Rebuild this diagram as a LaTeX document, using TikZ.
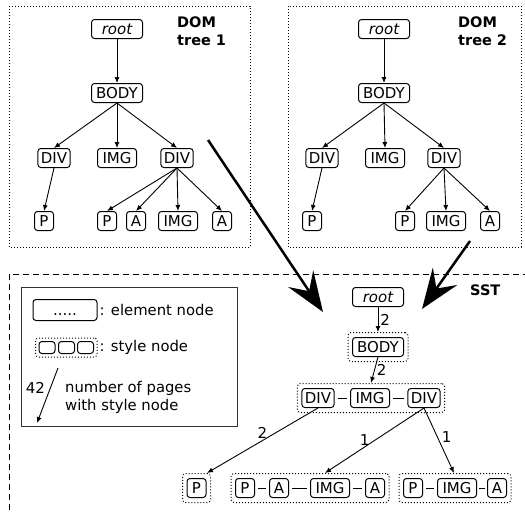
\documentclass[tikz,border=0pt]{standalone}
\usepackage{fontspec}
\setmainfont{DejaVu Sans}
\usetikzlibrary{arrows.meta, fit, positioning}

\begin{document}
\begin{tikzpicture}[
        x=1pt, y=-1pt,
        elem/.style={rectangle, draw, rounded corners=3pt, line width=1pt, inner xsep=3pt, inner ysep=4pt, text height=11pt, text depth=0pt, minimum width=19pt, font=\fontsize{15}{17}\selectfont},
        wide/.style={minimum width=51pt},
        imgw/.style={minimum width=39pt},
        rootelem/.style={elem, wide, font=\fontsize{15}{17}\selectfont\itshape},
        stylebox/.style={draw, dotted, rounded corners=3pt, line width=1pt, inner xsep=4pt, inner ysep=4.5pt},
        keycell/.style={draw, rounded corners=3pt, line width=1pt, minimum width=16pt, minimum height=12pt, inner sep=0pt},
        title/.style={font=\bfseries\fontsize{14.5}{18}\selectfont, align=left, inner sep=0pt},
        txt/.style={font=\fontsize{14.8}{18.5}\selectfont, inner sep=0pt},
        num/.style={font=\fontsize{15}{17}\selectfont, inner sep=1pt},
        arr/.style={-{Latex[length=6pt, width=5pt]}, line width=0.9pt},
        link/.style={line width=1pt, shorten <=3pt, shorten >=3pt},
        bigarr/.style={-{Stealth[length=40pt, width=30pt, inset=15pt]}, line width=2.5pt},
        treebox/.style={draw, dotted, line width=1pt}
    ]
        \useasboundingbox (0,0) rectangle (525,514);

        % Frames
        \draw[treebox] (9,6) rectangle (250,247);
        \draw[treebox] (288,6) rectangle (521,247);
        \draw[line width=1pt, dash pattern=on 6pt off 4pt] (9,520) |- (530,274);

        \node[title, anchor=north west] (dom1) at (177,16.5) {DOM\\tree 1};
        \node[title, anchor=north west] (dom2) at (458,16.5) {DOM\\tree 2};
        \node[title, anchor=base west] (sst) at (470,295) {SST};

        % Nodes: tree 1
        \node[rootelem] (root1) at (117,29) {root};
        \node[elem, wide] (body1) at (117,93) {BODY};
        \node[elem] (div1a) at (54,158) {DIV};
        \node[elem, imgw] (img1) at (117,158) {IMG};
        \node[elem] (div1b) at (177,158) {DIV};
        \node[elem] (p1a) at (44,221) {P};
        \node[elem] (p1b) at (107,221) {P};
        \node[elem] (a1a) at (136,221) {A};
        \node[elem, imgw] (img1b) at (178,221) {IMG};
        \node[elem] (a1b) at (222,221) {A};

        % Nodes: tree 2
        \node[rootelem] (root2) at (384,29) {root};
        \node[elem, wide] (body2) at (384,93) {BODY};
        \node[elem] (div2a) at (322,158) {DIV};
        \node[elem, imgw] (img2) at (385,158) {IMG};
        \node[elem] (div2b) at (444,158) {DIV};
        \node[elem] (p2a) at (312,221) {P};
        \node[elem] (p2b) at (405,221) {P};
        \node[elem, imgw] (img2b) at (446,221) {IMG};
        \node[elem] (a2) at (490,221) {A};

        % Nodes: SST
        \node[rootelem] (sroot) at (378,297) {root};
        \node[elem, wide] (sbody) at (378,347) {BODY};
        \node[stylebox, fit=(sbody)] (gbody) {};
        \node[elem] (sdiva) at (318,398) {DIV};
        \node[elem, imgw] (simg) at (370,398) {IMG};
        \node[elem] (sdivb) at (424,398) {DIV};
        \node[stylebox, fit=(sdiva)(sdivb)] (gdiv) {};
        \node[elem] (sp1) at (196.5,488) {P};
        \node[stylebox, fit=(sp1)] (gp1) {};
        \node[elem] (sp2) at (245,488) {P};
        \node[elem] (sa2) at (279,488) {A};
        \node[elem, imgw] (simg2) at (330,488) {IMG};
        \node[elem] (sa2b) at (375,488) {A};
        \node[stylebox, fit=(sp2)(sa2b)] (gp2) {};
        \node[elem] (sp3) at (413,488) {P};
        \node[elem, imgw] (simg3) at (457,488) {IMG};
        \node[elem] (sa3) at (497,488) {A};
        \node[stylebox, fit=(sp3)(sa3)] (gp3) {};

        % Legend
        \node[draw=black!80, line width=1pt, minimum width=216pt, minimum height=139pt] (legend) at (129,356.5) {};
        \node[elem, minimum width=64pt, minimum height=21pt] (keyelem) at (65,310) {.....};
        \node[txt, anchor=west, xshift=2pt] (keyelemtxt) at (keyelem.east) {: element node};
        \node[keycell] (cell1) at (47,347.5) {};
        \node[keycell] (cell2) at (66.5,347.5) {};
        \node[keycell] (cell3) at (85.5,347.5) {};
        \node[stylebox, fit=(cell1)(cell3), inner xsep=3pt, inner ysep=3pt] (keystyle) {};
        \node[txt, anchor=west, xshift=2pt] (keystyletxt) at (keystyle.east) {: style node};
        \coordinate (keytop) at (58,368);
        \coordinate (keybot) at (37,423);
        \node[txt, anchor=north west, align=left] (keynumtxt) at (65,381) {number of pages\\with style node};

        % Arrows: tree 1
        \draw[arr] (root1) -- (body1);
        \draw[arr] (body1.south) -- (div1a.north);
        \draw[arr] (body1.south) -- (img1.north);
        \draw[arr] (body1.south) -- (div1b.north);
        \draw[arr] (div1a.south) -- (p1a.north);
        \draw[arr] (div1b.south) -- (p1b.north);
        \draw[arr] (div1b.south) -- (a1a.north);
        \draw[arr] (div1b.south) -- (img1b.north);
        \draw[arr] (div1b.south) -- (a1b.north);

        % Arrows: tree 2
        \draw[arr] (root2) -- (body2);
        \draw[arr] (body2.south) -- (div2a.north);
        \draw[arr] (body2.south) -- (img2.north);
        \draw[arr] (body2.south) -- (div2b.north);
        \draw[arr] (div2a.south) -- (p2a.north);
        \draw[arr] (div2b.south) -- (p2b.north);
        \draw[arr] (div2b.south) -- (img2b.north);
        \draw[arr] (div2b.south) -- (a2.north);

        % Arrows: SST
        \draw[arr] (sroot) -- (gbody) node[num, midway, right=1pt] {2};
        \draw[arr] (sbody.south) -- (gdiv.north) node[num, midway, right=1pt] {2};
        \draw[arr] (sdiva.south) -- ([xshift=-4pt]gp1.north east) node[num, pos=0.5, above=1pt] {2};
        \draw[arr] (sdivb.south) -- ([xshift=15pt]gp2.north) node[num, pos=0.6, above=0pt] {1};
        \draw[arr] (sdivb.south) -- ([xshift=-1pt]gp3.north) node[num, pos=0.45, right=3pt] {1};
        \draw[link] (sdiva) -- (simg);
        \draw[link] (simg) -- (sdivb);
        \draw[link] (sp2) -- (sa2);
        \draw[link] (sa2) -- (simg2);
        \draw[link] (simg2) -- (sa2b);
        \draw[link] (sp3) -- (simg3);
        \draw[link, shorten <=2pt, shorten >=2pt] (simg3) -- (sa3);
        \draw[arr] (keytop) -- (keybot) node[num, pos=0.36, left=4pt] {42};

        % Merge arrows
        \coordinate (from1) at (208,140);
        \coordinate (to1) at (323,312);
        \coordinate (from2) at (470,241);
        \coordinate (to2) at (422,309);
        \draw[bigarr] (from1) -- (to1);
        \draw[bigarr] (from2) -- (to2);
    \end{tikzpicture}
\end{document}
